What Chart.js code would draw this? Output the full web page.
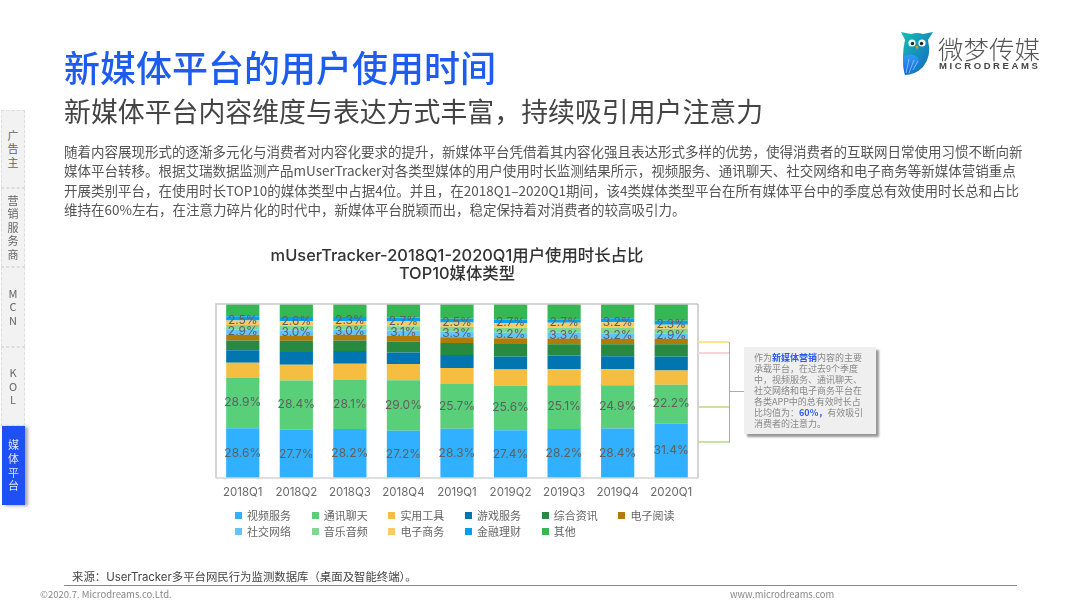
<!DOCTYPE html>
<html lang="zh"><head><meta charset="utf-8">
<script src="https://cdn.jsdelivr.net/npm/chart.js@4/dist/chart.umd.min.js"></script>
<style>
html,body{margin:0;padding:0;background:#fff;width:1080px;height:608px;overflow:hidden;font-family:"Noto Sans CJK SC","Noto Sans",sans-serif}
.abs{position:absolute;white-space:nowrap}
#cv{position:absolute;left:0;top:0}
.tab{position:absolute;left:1px;width:24px;background:#f2f2f2;border:1px dashed #ddd;box-sizing:border-box;display:flex;flex-direction:column;align-items:center;justify-content:center;font-size:11px;line-height:13.6px;color:#666}
.tab.on{left:2px;width:23px;background:#1e50f5;color:#dfe8ff;border:none;box-shadow:3px 1px 3px #aaa}
.ln{position:absolute}
#legend{position:absolute;left:235px;top:507px;display:grid;grid-template-columns:repeat(6,76.7px);grid-auto-rows:16px;font-size:11px;color:#666}
#legend div{display:flex;align-items:center;white-space:nowrap}
#legend i{display:block;width:7px;height:7px;margin-right:5px}
#note{position:absolute;left:744px;top:347px;width:132px;height:87px;box-sizing:border-box;background:#efefef;box-shadow:3px 3px 2px #999;padding:4.5px 0 0 10px;font-size:9px;line-height:11px;color:#888;white-space:nowrap}
#note b{color:#2a5cf0;font-weight:700}
</style></head><body>
<canvas id="cv" width="1080" height="608"></canvas>

<div class="abs" style="left:64px;top:40px;font-size:36px;line-height:52px;color:#1e5cf0;font-weight:500;">新媒体平台的用户使用时间</div>
<div class="abs" style="left:64px;top:91px;font-size:26.9px;line-height:40px;color:#444;">新媒体平台内容维度与表达方式丰富，持续吸引用户注意力</div>
<div class="abs" style="left:64px;top:142px;font-size:13.5px;line-height:19.3px;color:#555;">随着内容展现形式的逐渐多元化与消费者对内容化要求的提升，新媒体平台凭借着其内容化强且表达形式多样的优势，使得消费者的互联网日常使用习惯不断向新<br>媒体平台转移。根据艾瑞数据监测产品mUserTracker对各类型媒体的用户使用时长监测结果所示，视频服务、通讯聊天、社交网络和电子商务等新媒体营销重点<br>开展类别平台，在使用时长TOP10的媒体类型中占据4位。并且，在2018Q1–2020Q1期间，该4类媒体类型平台在所有媒体平台中的季度总有效使用时长总和占比<br>维持在60%左右，在注意力碎片化的时代中，新媒体平台脱颖而出，稳定保持着对消费者的较高吸引力。</div>

<div class="tab" style="top:110px;height:78px"><span>广</span><span>告</span><span>主</span></div>
<div class="tab" style="top:188px;height:79px"><span>营</span><span>销</span><span>服</span><span>务</span><span>商</span></div>
<div class="tab" style="top:267px;height:80px"><span>M</span><span>C</span><span>N</span></div>
<div class="tab" style="top:347px;height:79px"><span>K</span><span>O</span><span>L</span></div>
<div class="tab on" style="top:426px;height:79px"><span>媒</span><span>体</span><span>平</span><span>台</span></div>

<svg class="abs" style="left:895px;top:26px" width="45" height="55" viewBox="0 0 45 55">
<defs><linearGradient id="g1" x1="0" y1="0" x2="1" y2="1"><stop offset="0" stop-color="#16c0b0"/><stop offset="1" stop-color="#1560c8"/></linearGradient>
<linearGradient id="g2" x1="0" y1="0" x2="0" y2="1"><stop offset="0" stop-color="#2f9cf5"/><stop offset="1" stop-color="#1c62e0"/></linearGradient></defs>
<path d="M6 6 L16 8 Q22 6 28 8 L38 6 L33 14 Q37 30 28 41 Q20 49 10 49 Q6 30 10 14 Z" fill="url(#g1)"/>
<path d="M9 30 Q20 26 24 34 Q22 44 10 49 Q7 40 9 30Z" fill="url(#g2)"/>
<path d="M11 47 L14 33 M14 47 L19 34 M18 44 L23 35" stroke="#8fd0fa" stroke-width=".8" fill="none"/>
<circle cx="17" cy="17" r="3.6" fill="#fff"/><circle cx="27" cy="17" r="3.6" fill="#fff"/>
<circle cx="17.5" cy="17.5" r="1.7" fill="#222"/><circle cx="26.5" cy="17.5" r="1.7" fill="#222"/>
<path d="M20.5 20 L23.5 20 L22 24Z" fill="#e8932a"/>
</svg>
<div class="abs" style="left:938px;top:31px;font-size:25.5px;line-height:34px;color:#555;font-weight:300;">微梦传媒</div>
<div class="abs" style="left:939px;top:59px;font-family:'Liberation Sans';font-size:9.5px;line-height:13px;font-weight:700;letter-spacing:2.6px;color:#444;">MICRODREAMS</div>

<div class="ln" style="left:698px;top:341px;width:31px;height:2px;background:#fbe58c"></div>
<div class="ln" style="left:698px;top:352px;width:31px;height:2px;background:#f8d4d4"></div>
<div class="ln" style="left:698px;top:406px;width:31px;height:2px;background:#c8e2a4"></div>
<div class="ln" style="left:698px;top:441px;width:31px;height:2px;background:#c8e2a4"></div>
<div class="ln" style="left:729px;top:342px;width:1px;height:101px;background:#aaa"></div>
<div class="ln" style="left:729px;top:390.5px;width:15px;height:1px;background:#aaa"></div>
<div id="note">作为<b>新媒体营销</b>内容的主要<br>承载平台，在过去9个季度<br>中，视频服务、通讯聊天、<br>社交网络和电子商务平台在<br>各类APP中的总有效时长占<br>比均值为：<b>60%，</b>有效吸引<br>消费者的注意力。</div>

<div id="legend"></div>

<div class="abs" style="left:72px;top:569px;font-family:Inter,'Noto Sans CJK SC';font-size:11.4px;line-height:16px;color:#444;">来源：UserTracker多平台网民行为监测数据库（桌面及智能终端）。</div>
<div class="ln" style="left:64px;top:585px;width:953px;height:1px;background:#888"></div>
<div class="abs" style="left:40px;top:587px;font-size:9.5px;line-height:14px;color:#888;">©2020.7. Microdreams.co.Ltd.</div>
<div class="abs" style="left:730px;top:587px;font-size:9.4px;line-height:14px;color:#888;">www.microdreams.com</div>

<script>
const categories = ['2018Q1','2018Q2','2018Q3','2018Q4','2019Q1','2019Q2','2019Q3','2019Q4','2020Q1'];
const video   = [28.6,27.7,28.2,27.2,28.3,27.4,28.2,28.4,31.4];
const chat    = [28.9,28.4,28.1,29.0,25.7,25.6,25.1,24.9,22.2];
const tools   = [8.8,9.0,9.4,9.4,9.2,9.4,9.2,9.2,8.2];
const games   = [7.1,7.3,7.3,6.5,7.5,7.5,7.9,7.5,8.0];
const news    = [5.7,6.5,6.1,6.3,6.9,7.1,6.5,6.9,7.1];
const reading = [3.3,3.1,3.3,3.3,3.3,3.3,3.3,3.1,3.1];
const social  = [2.9,3.0,3.0,3.1,3.3,3.2,3.3,3.2,2.9];
const music   = [2.7,2.5,2.5,2.5,2.7,2.9,3.0,3.1,2.9];
const ecom    = [2.5,2.6,2.3,2.7,2.5,2.7,2.7,3.2,2.3];
const finance = [2.5,2.5,2.3,2.3,2.1,2.1,2.1,2.3,2.3];
const others  = [7.3,7.4,7.5,7.7,8.5,8.8,8.7,8.2,9.6];
const seriesNames = ['视频服务','通讯聊天','实用工具','游戏服务','综合资讯','电子阅读','社交网络','音乐音频','电子商务','金融理财','其他'];
const seriesValues = [video,chat,tools,games,news,reading,social,music,ecom,finance,others];
const seriesColors = ['#30b0ff','#5acf7a','#f5be41','#0075b0','#288a41','#b07c08','#5fc4ff','#7ed890','#facb62','#04a0f0','#35b853'];
const labelled = {'视频服务':0,'通讯聊天':-0.5,'社交网络':-0.7,'电子商务':-2.6};
const titleLines = ['mUserTracker-2018Q1-2020Q1用户使用时长占比','TOP10媒体类型'];

const FONT = 'Inter,"Noto Sans CJK SC","Noto Sans",sans-serif';
const barLabels = {
  id:'barLabels',
  afterDatasetsDraw(chart){
    const c = chart.ctx; c.save();
    c.font = '12px '+FONT; c.fillStyle = '#606060'; c.textAlign='center'; c.textBaseline='middle';
    chart.data.datasets.forEach((ds,i)=>{
      if(!(ds.label in labelled)) return;
      chart.getDatasetMeta(i).data.forEach((el,j)=>{
        c.fillText(ds.data[j].toFixed(1)+'%', el.x, (el.y+el.base)/2+labelled[ds.label]);
      });
    });
    c.restore();
  }
};
const frame = {
  id:'frame',
  afterDraw(chart){
    const a = chart.chartArea, c = chart.ctx; c.save();
    c.lineWidth = 1.5;
    c.strokeStyle = '#c8c8c8';
    c.beginPath(); c.moveTo(a.left,a.bottom); c.lineTo(a.left,a.top); c.lineTo(a.right,a.top); c.stroke();
    c.strokeStyle = '#d4d4d4';
    c.beginPath(); c.moveTo(a.left,a.bottom); c.lineTo(a.right,a.bottom); c.stroke();
    c.strokeStyle = '#aaa'; c.lineWidth = 1;
    c.beginPath(); c.moveTo(a.right,a.top); c.lineTo(a.right,a.bottom); c.stroke();
    c.restore();
  }
};
new Chart(document.getElementById('cv'),{
  type:'bar',
  data:{labels:categories,datasets:seriesNames.map((n,i)=>({label:n,data:seriesValues[i],backgroundColor:seriesColors[i],borderWidth:0}))},
  plugins:[barLabels,frame],
  options:{
    responsive:false,animation:false,devicePixelRatio:1,
    layout:{padding:{left:216,right:382,top:247,bottom:100}},
    datasets:{bar:{categoryPercentage:1,barPercentage:0.62}},
    plugins:{
      legend:{display:false},tooltip:{enabled:false},
      title:{display:true,text:titleLines,color:'#333',font:{family:FONT,size:16.4,weight:'500',lineHeight:1.1},padding:{top:0,bottom:21}}
    },
    scales:{
      x:{stacked:true,grid:{display:false,drawTicks:false},border:{display:false},
         ticks:{color:'#6a6a6a',font:{family:FONT,size:11.5},padding:8,maxRotation:0,autoSkip:false},
         afterFit(s){s.height=30;}},
      y:{stacked:true,display:false,min:0,max:100}
    }
  }
});
const lg = document.getElementById('legend');
seriesNames.forEach((n,i)=>{
  const d=document.createElement('div');
  const b=document.createElement('i'); b.style.background=seriesColors[i];
  d.appendChild(b); d.appendChild(document.createTextNode(n)); lg.appendChild(d);
});
</script>
</body></html>
